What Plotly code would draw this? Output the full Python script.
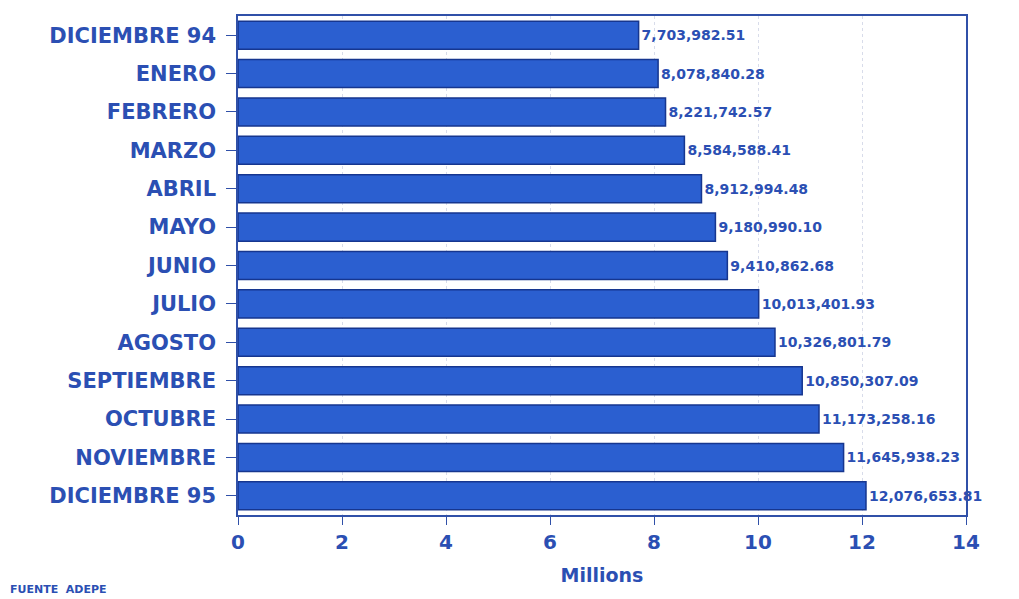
import plotly.graph_objects as go

meses = ["DICIEMBRE 94", "ENERO", "FEBRERO", "MARZO", "ABRIL", "MAYO", "JUNIO",
         "JULIO", "AGOSTO", "SEPTIEMBRE", "OCTUBRE", "NOVIEMBRE", "DICIEMBRE 95"]
montos = [7703982.51, 8078840.28, 8221742.57, 8584588.41, 8912994.48, 9180990.10,
          9410862.68, 10013401.93, 10326801.79, 10850307.09, 11173258.16,
          11645938.23, 12076653.81]
x_ticks = [0, 2, 4, 6, 8, 10, 12, 14]

AZUL = "#2b5fd0"
TEXTO = "#2b4fb3"

millones = [v / 1e6 for v in montos]
etiquetas = [f"{v:,.2f}" for v in montos]

fig = go.Figure()
fig.add_trace(go.Bar(
    x=millones, y=meses, orientation="h",
    marker=dict(color=AZUL, line=dict(color="#16368f", width=1.5)),
    text=etiquetas, textposition="outside", cliponaxis=False,
    textfont=dict(size=14, color=TEXTO, family="DejaVu Sans", weight="bold"),
))

fig.update_layout(
    width=1019, height=599,
    paper_bgcolor="white", plot_bgcolor="white",
    margin=dict(l=230, r=61, t=6, b=92),
    bargap=0.27, showlegend=False,
    font=dict(family="DejaVu Sans", color=TEXTO),
    annotations=[dict(
        text="FUENTE  ADEPE", xref="paper", yref="paper",
        x=-0.316, y=-0.166, xanchor="left", yanchor="bottom", showarrow=False,
        font=dict(size=11, color=TEXTO, weight="bold"),
    )],
)
fig.update_xaxes(
    range=[0, 14], tickvals=x_ticks, ticks="outside", ticklen=8,
    tickcolor="#3050a8", tickfont=dict(size=20, color=TEXTO, weight="bold"),
    showline=True, linecolor="#3050a8", linewidth=1.5, mirror=True,
    showgrid=True, gridcolor="#d8dcea", griddash="dot", zeroline=False,
    title=dict(text="Millions", font=dict(size=19, color=TEXTO, weight="bold"),
               standoff=16),
)
fig.update_yaxes(
    categoryorder="array", categoryarray=meses[::-1],
    ticks="outside", ticklen=10, tickcolor="#3050a8", ticklabelstandoff=6,
    tickfont=dict(size=21, color=TEXTO, weight="bold"),
    showline=True, linecolor="#3050a8", linewidth=1.5, mirror=True,
    showgrid=False,
)

fig.write_html("out.html")
